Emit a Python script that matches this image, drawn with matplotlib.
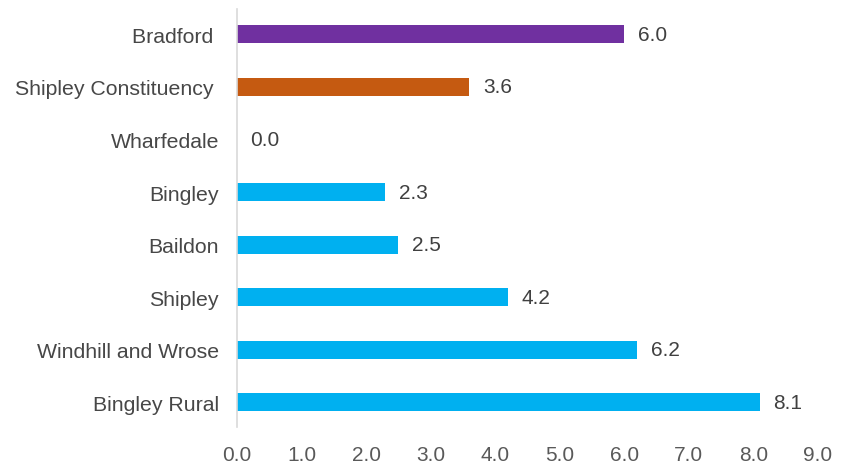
import matplotlib.pyplot as plt

# Data (top to bottom as shown)
areas = ['Bradford ', 'Shipley Constituency ', 'Wharfedale', 'Bingley', 'Baildon',
         'Shipley', 'Windhill and Wrose', 'Bingley Rural']
values = [6.0, 3.6, 0.0, 2.3, 2.5, 4.2, 6.2, 8.1]
colors = ['#7030A0', '#C55A11'] + ['#00B0F0'] * 6
xticks = [0, 1, 2, 3, 4, 5, 6, 7, 8, 9]

plt.rcParams['font.family'] = ['Liberation Sans', 'DejaVu Sans']

fig = plt.figure(figsize=(8.48, 4.64), dpi=100)
ax = fig.add_axes([0.2795, 0.0776, 0.685, 0.9004])

# reverse so first item is at top
pos = list(range(len(areas)))[::-1]
ax.barh(pos, values, height=0.34, color=colors)

for p, v in zip(pos, values):
    ax.text(v + 0.21, p, f'{v:.1f}', va='center', ha='left', fontsize=15, color='#404040')

ax.set_yticks(pos)
ax.set_yticklabels(areas, fontsize=15.3, color='#474747')
ax.set_xticks(xticks)
ax.set_xticklabels([f'{x:.1f}' for x in xticks], fontsize=15, color='#595959')
ax.set_xlim(0, 9)
ax.set_ylim(-0.47, 7.48)

ax.tick_params(axis='y', length=0, pad=13)
ax.tick_params(axis='x', length=0, pad=13)
for s in ['top', 'right', 'bottom']:
    ax.spines[s].set_visible(False)
ax.spines['left'].set_color('#D9D9D9')
ax.spines['left'].set_linewidth(1.2)

fig.savefig('out.png', dpi=100)
